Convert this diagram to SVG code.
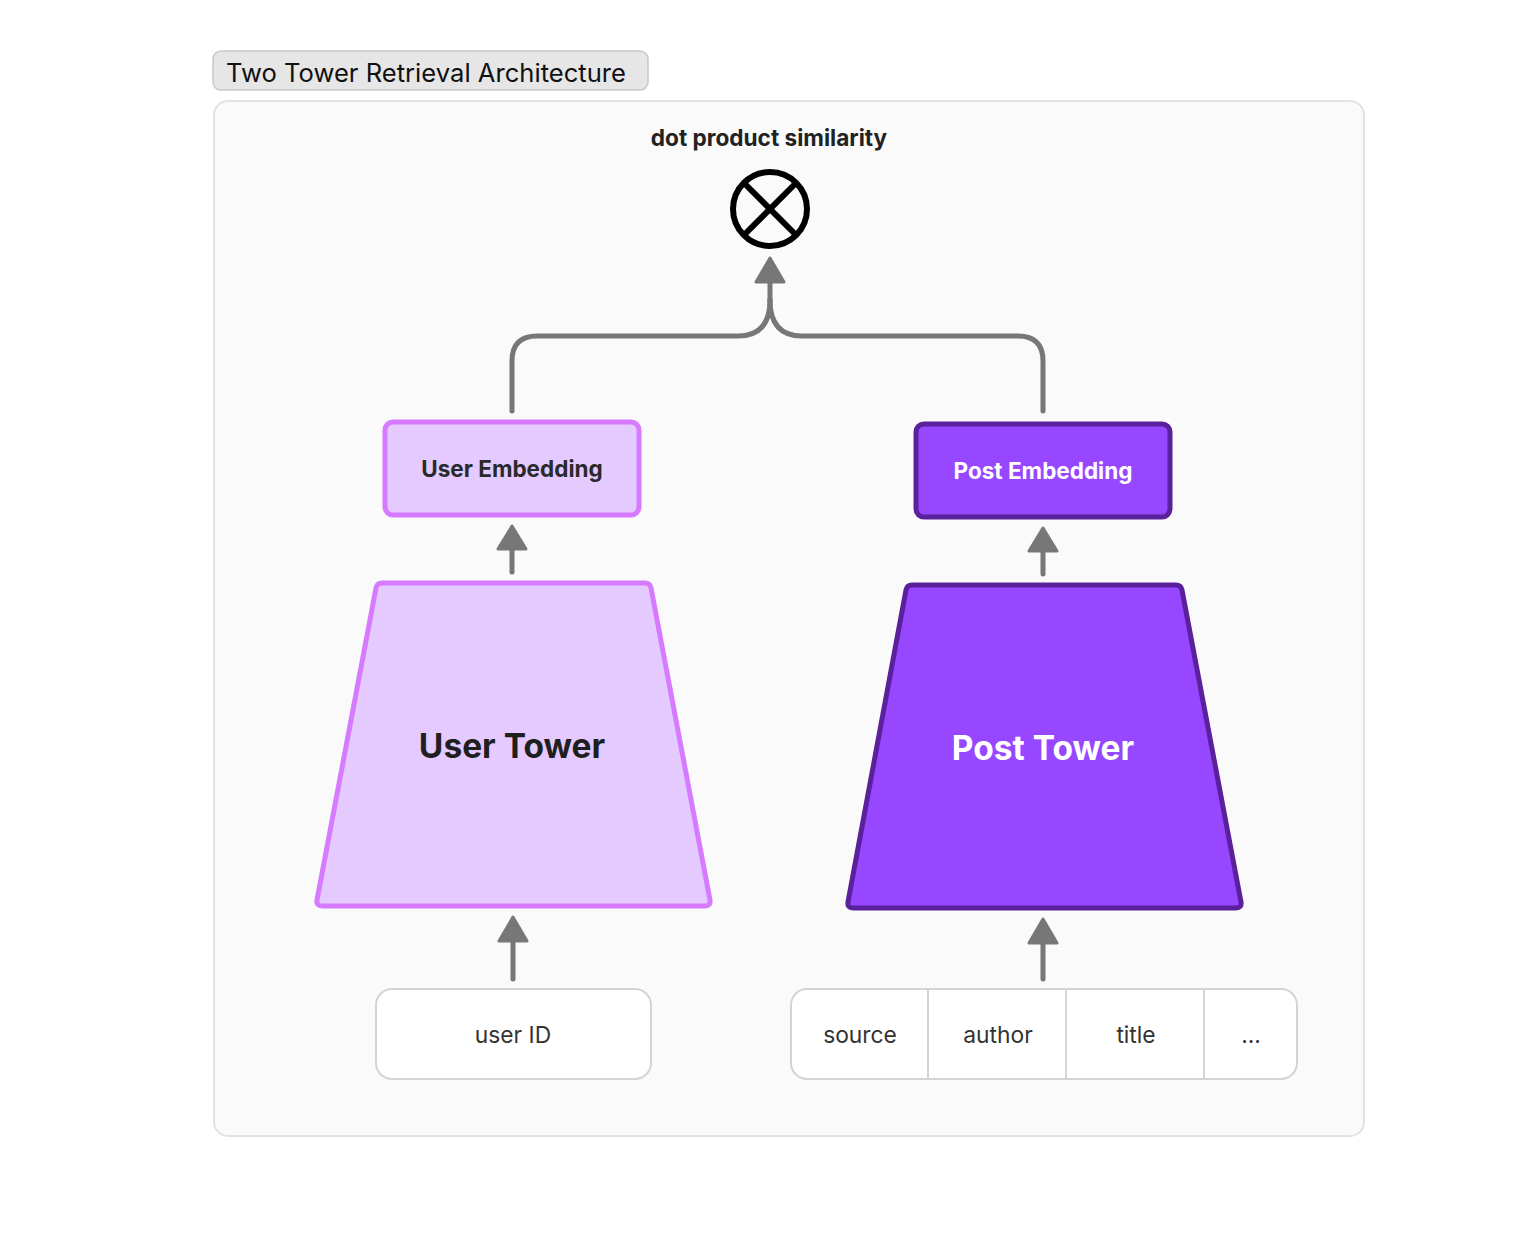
<svg xmlns="http://www.w3.org/2000/svg" width="1536" height="1240" viewBox="0 0 1536 1240">
<style>
.conn{fill:none;stroke:#777777;stroke-width:5;stroke-linecap:round;stroke-linejoin:round}
.head{fill:#777777;stroke:#777777;stroke-width:3;stroke-linejoin:round}
.light{fill:#e4cafe;stroke:#d67bff;stroke-width:5;stroke-linejoin:round}
.dark{fill:#9747ff;stroke:#5b209b;stroke-width:5;stroke-linejoin:round}
.lbl{font-family:Inter,"Noto Sans",sans-serif;font-weight:700;text-anchor:middle}
.inp{font-family:Inter,"Noto Sans",sans-serif;font-size:22.8px;fill:#333333;text-anchor:middle}
.box{fill:#ffffff;stroke:#d4d4d4;stroke-width:2}
</style>
<rect width="1536" height="1240" fill="#ffffff"/>
<g id="container">
<rect x="214" y="101" width="1150" height="1035" rx="14" fill="#fafafa" stroke="#e2e2e2" stroke-width="2"/>
</g>
<g id="title">
<rect x="213" y="51" width="435" height="39" rx="8" fill="#e6e6e6" stroke="#c8c8c8" stroke-width="1.5"/>
<text x="226" y="82" font-family="Inter,'Liberation Sans',sans-serif" font-size="25" fill="#111111" textLength="400" lengthAdjust="spacingAndGlyphs">Two Tower Retrieval Architecture</text>
</g>
<g id="dot-product">
<text x="769" y="146" class="lbl" font-size="22.6" fill="#222222">dot product similarity</text>
<circle cx="770" cy="209" r="37" fill="none" stroke="#000000" stroke-width="6"/>
<line x1="744" y1="183" x2="796" y2="235" stroke="#000000" stroke-width="6"/>
<line x1="796" y1="183" x2="744" y2="235" stroke="#000000" stroke-width="6"/>
</g>
<g id="connectors">
<path class="conn" d="M512 411 V361 Q512 336 537 336 H738 Q770 336 770 300"/>
<path class="conn" d="M1043 411 V361 Q1043 336 1018 336 H802 Q770 336 770 300"/>
<path class="conn" d="M770 300 V282"/>
<polygon class="head" points="770,258 756,282 784,282"/>
<path class="conn" d="M512 572 V548"/>
<polygon class="head" points="512,526 498,549 526,549"/>
<path class="conn" d="M1043 574 V550"/>
<polygon class="head" points="1043,528 1029,551 1057,551"/>
<path class="conn" d="M513 979 V940"/>
<polygon class="head" points="513,917 499,941 527,941"/>
<path class="conn" d="M1043 979 V942"/>
<polygon class="head" points="1043,919 1029,943 1057,943"/>
</g>
<g id="user-embedding">
<rect x="385" y="422" width="254" height="93" rx="8" class="light"/>
<text x="512" y="477" class="lbl" font-size="22.5" fill="#2a2a2a">User Embedding</text>
</g>
<g id="post-embedding">
<rect x="916" y="424" width="254" height="93" rx="8" class="dark"/>
<text x="1043" y="479" class="lbl" font-size="22.5" fill="#ffffff">Post Embedding</text>
</g>
<g id="user-tower">
<path class="light" d="M382 583 H645 Q650 583 651 588 L710 900 Q711 906 705 906 H322 Q316 906 317 900 L376 588 Q377 583 382 583 Z"/>
<text x="512" y="758" class="lbl" font-size="33.5" fill="#1f1f1f">User Tower</text>
</g>
<g id="post-tower">
<path class="dark" d="M912 585 H1176 Q1181 585 1182 590 L1241 902 Q1242 908 1236 908 H853 Q847 908 848 902 L906 590 Q907 585 912 585 Z"/>
<text x="1043" y="760" class="lbl" font-size="33.5" fill="#ffffff">Post Tower</text>
</g>
<g id="user-id">
<rect x="376" y="989" width="275" height="90" rx="16" class="box"/>
<text x="513" y="1043" class="inp">user ID</text>
</g>
<g id="post-features">
<rect x="791" y="989" width="506" height="90" rx="16" class="box"/>
<line x1="928" y1="989" x2="928" y2="1079" stroke="#d4d4d4" stroke-width="2"/>
<line x1="1066" y1="989" x2="1066" y2="1079" stroke="#d4d4d4" stroke-width="2"/>
<line x1="1204" y1="989" x2="1204" y2="1079" stroke="#d4d4d4" stroke-width="2"/>
<text x="860" y="1043" class="inp">source</text>
<text x="998" y="1043" class="inp">author</text>
<text x="1136" y="1043" class="inp">title</text>
<text x="1251" y="1043" class="inp">...</text>
</g>
</svg>
